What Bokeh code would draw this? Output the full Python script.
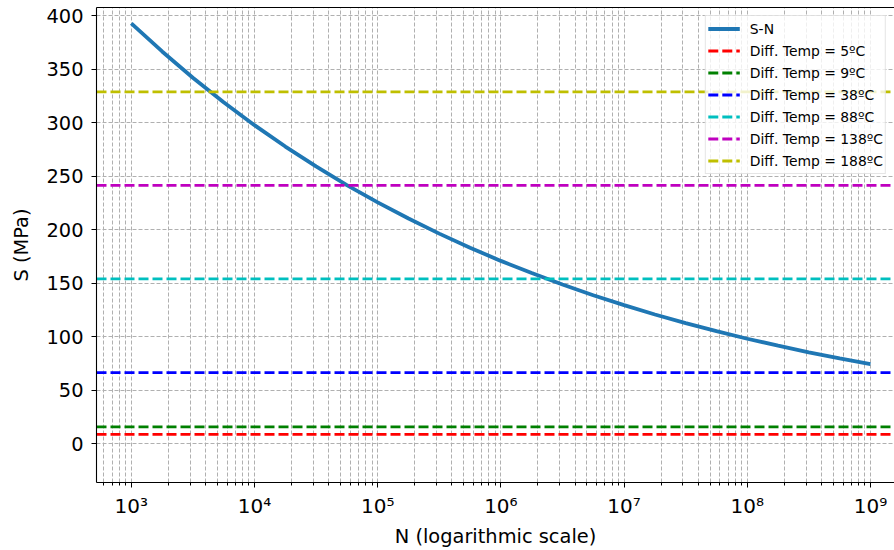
from bokeh.plotting import figure
from bokeh.models import FixedTicker, LogAxis, Range1d
from bokeh.embed import file_html
from bokeh.resources import INLINE

# ---- data ----
N_CYCLES = [1.0e3, 1.78e3, 3.16e3, 5.62e3, 1.0e4, 1.78e4, 3.16e4, 5.62e4,
            1.0e5, 1.78e5, 3.16e5, 5.62e5, 1.0e6, 1.78e6, 3.16e6, 5.62e6,
            1.0e7, 1.78e7, 3.16e7, 5.62e7, 1.0e8, 1.78e8, 3.16e8, 5.62e8, 1.0e9]
S_MPA = [393.0, 366.7, 342.1, 319.2, 297.8, 277.8, 259.2, 241.8,
         225.6, 210.5, 196.4, 183.2, 170.9, 159.5, 148.8, 138.8,
         129.5, 120.8, 112.7, 105.2, 98.1, 91.6, 85.4, 79.7, 74.4]
TEMP_DIFFS = [5, 9, 38, 88, 138, 188]
THERMAL_STRESS = [8.75, 15.75, 66.5, 154.0, 241.5, 329.0]
LINE_COLORS = ["#ff0000", "#008000", "#0000ff", "#00bfbf", "#bf00bf", "#bfbf00"]

X_TICKS = [1e3, 1e4, 1e5, 1e6, 1e7, 1e8, 1e9]
X_TICK_LABELS = ["10³", "10⁴", "10⁵", "10⁶", "10⁷", "10⁸", "10⁹"]
Y_TICKS = [0, 50, 100, 150, 200, 250, 300, 350, 400]

X_MIN, X_MAX = 522.0, 1.567e9
Y_MIN, Y_MAX = -36.3, 407.8

FONT = "DejaVu Sans"

p = figure(width=894, height=550, x_axis_type="log",
           x_range=Range1d(X_MIN, X_MAX), y_range=Range1d(Y_MIN, Y_MAX),
           output_backend="svg", toolbar_location=None,
           min_border_left=96, min_border_right=0, min_border_top=7,
           min_border_bottom=66, outline_line_color=None,
           background_fill_color="white", border_fill_color="white")

p.line(N_CYCLES, S_MPA, line_color="#1f77b4", line_width=3.8, legend_label="S-N")
for dt, s, c in zip(TEMP_DIFFS, THERMAL_STRESS, LINE_COLORS):
    p.line([X_MIN, X_MAX], [s, s], line_color=c, line_width=2.8,
           line_dash="10 4", legend_label=f"Diff. Temp = {dt}ºC")

minor = [k * 10.0 ** e for e in range(2, 10) for k in range(2, 10)]
p.xaxis.ticker = FixedTicker(ticks=X_TICKS, minor_ticks=minor)
p.xaxis.major_label_overrides = dict(zip(X_TICKS, X_TICK_LABELS))
p.yaxis.ticker = FixedTicker(ticks=Y_TICKS)
p.yaxis.minor_tick_line_color = None

for ax in (p.xaxis[0], p.yaxis[0]):
    ax.axis_line_color = "black"
    ax.axis_line_width = 1.1
    ax.major_tick_line_color = "black"
    ax.major_tick_out = 5
    ax.major_tick_in = 0
    ax.minor_tick_out = 3
    ax.minor_tick_in = 0
    ax.major_label_text_font = FONT
    ax.major_label_text_font_size = "19.4px"
    ax.major_label_text_color = "black"
    ax.axis_label_text_font = FONT
    ax.axis_label_text_font_size = "19.4px"
    ax.axis_label_text_font_style = "normal"
    ax.axis_label_text_color = "black"

p.xaxis.axis_label = "N (logarithmic scale)"
p.yaxis.axis_label = "S (MPa)"
p.xaxis.major_label_text_font_size = "20px"
p.xaxis.major_label_standoff = 6
p.yaxis.major_label_standoff = 8
p.xaxis.axis_label_standoff = 4
p.yaxis.axis_label_standoff = 10

top = LogAxis(ticker=FixedTicker(ticks=[]), axis_line_color="black", axis_line_width=1.1,
              major_tick_out=0, major_tick_in=0, minor_tick_out=0, minor_tick_in=0,
              major_label_standoff=0, major_label_text_font_size="0px")
p.add_layout(top, "above")

p.xgrid.grid_line_color = "#b0b0b0"
p.xgrid.grid_line_dash = "4 2"
p.xgrid.grid_line_width = 1
p.xgrid.minor_grid_line_color = "#b0b0b0"
p.xgrid.minor_grid_line_dash = "4 2"
p.xgrid.minor_grid_line_width = 1
p.ygrid.grid_line_color = "#b0b0b0"
p.ygrid.grid_line_dash = "4 2"
p.ygrid.grid_line_width = 1

lg = p.legend[0]
lg.location = "top_right"
lg.margin = 8
lg.padding = 2
lg.spacing = 1
lg.label_height = 21
lg.glyph_height = 21
lg.glyph_width = 32
lg.label_standoff = 10
lg.label_text_font = FONT
lg.label_text_font_size = "13.9px"
lg.label_text_color = "black"
lg.background_fill_color = "white"
lg.background_fill_alpha = 0.8
lg.border_line_color = "#cccccc"
lg.border_line_width = 1

open("out.html", "w").write(file_html(p, INLINE))
